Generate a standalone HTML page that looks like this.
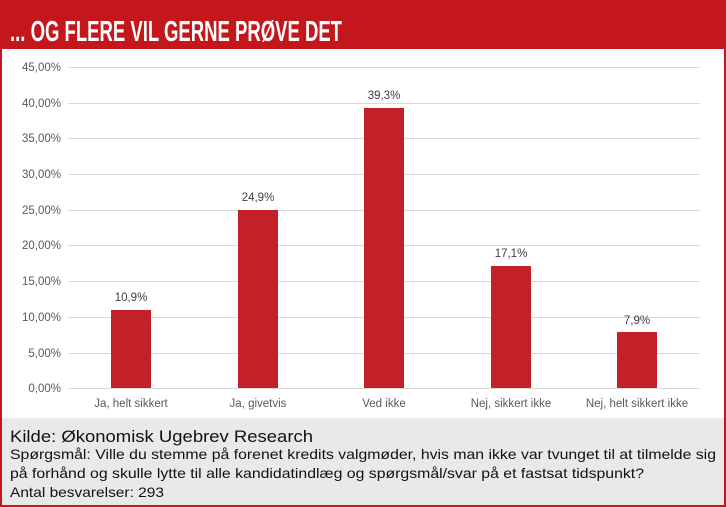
<!DOCTYPE html>
<html><head><meta charset="utf-8"><style>
html,body{margin:0;padding:0;background:#fff;}
svg{display:block;font-family:"Liberation Sans",sans-serif;}
</style></head><body>
<svg width="726" height="507" viewBox="0 0 726 507" xmlns="http://www.w3.org/2000/svg">
<rect x="0" y="0" width="726" height="507" fill="#fff"/>
<rect x="0" y="0" width="726" height="49" fill="#c4171b"/>
<text x="10" y="41" fill="#fff" font-size="29" font-weight="bold" textLength="332" lengthAdjust="spacingAndGlyphs">... OG FLERE VIL GERNE PRØVE DET</text>
<rect x="1" y="418" width="724" height="88" fill="#e9e9e9"/>
<rect x="1" y="1" width="724" height="505" fill="none" stroke="#c4171b" stroke-width="2"/>
<g stroke="#d9d9d9" stroke-width="1">
<line x1="68" x2="700" y1="67.5" y2="67.5"/>
<line x1="68" x2="700" y1="103.5" y2="103.5"/>
<line x1="68" x2="700" y1="138.5" y2="138.5"/>
<line x1="68" x2="700" y1="174.5" y2="174.5"/>
<line x1="68" x2="700" y1="210.5" y2="210.5"/>
<line x1="68" x2="700" y1="245.5" y2="245.5"/>
<line x1="68" x2="700" y1="281.5" y2="281.5"/>
<line x1="68" x2="700" y1="317.5" y2="317.5"/>
<line x1="68" x2="700" y1="353.5" y2="353.5"/>
<line x1="68" x2="700" y1="388.5" y2="388.5"/>
</g>
<g font-size="11.5" fill="#595959" text-anchor="end">
<text x="61" y="71">45,00%</text>
<text x="61" y="107">40,00%</text>
<text x="61" y="142">35,00%</text>
<text x="61" y="178">30,00%</text>
<text x="61" y="214">25,00%</text>
<text x="61" y="249">20,00%</text>
<text x="61" y="285">15,00%</text>
<text x="61" y="321">10,00%</text>
<text x="61" y="357">5,00%</text>
<text x="61" y="392">0,00%</text>
</g>
<g fill="#c4202a">
<rect x="111" y="310" width="40" height="78"/>
<rect x="238" y="210" width="40" height="178"/>
<rect x="364" y="108" width="40" height="280"/>
<rect x="491" y="266" width="40" height="122"/>
<rect x="617" y="332" width="40" height="56"/>
</g>
<g font-size="11.5" fill="#404040" text-anchor="middle">
<text x="131" y="301">10,9%</text>
<text x="258" y="201">24,9%</text>
<text x="384" y="99">39,3%</text>
<text x="511" y="257">17,1%</text>
<text x="637" y="324">7,9%</text>
</g>
<g font-size="11.5" fill="#595959" text-anchor="middle">
<text x="131" y="407">Ja, helt sikkert</text>
<text x="258" y="407">Ja, givetvis</text>
<text x="384" y="407">Ved ikke</text>
<text x="511" y="407">Nej, sikkert ikke</text>
<text x="637" y="407">Nej, helt sikkert ikke</text>
</g>
<g fill="#111">
<text x="10" y="442" font-size="17" textLength="303" lengthAdjust="spacingAndGlyphs">Kilde: Økonomisk Ugebrev Research</text>
<text x="10" y="459" font-size="14" textLength="706" lengthAdjust="spacingAndGlyphs">Spørgsmål: Ville du stemme på forenet kredits valgmøder, hvis man ikke var tvunget til at tilmelde sig</text>
<text x="10" y="478" font-size="14" textLength="634" lengthAdjust="spacingAndGlyphs">på forhånd og skulle lytte til alle kandidatindlæg og spørgsmål/svar på et fastsat tidspunkt?</text>
<text x="10" y="497" font-size="14" textLength="154" lengthAdjust="spacingAndGlyphs">Antal besvarelser: 293</text>
</g>
</svg>
</body></html>
